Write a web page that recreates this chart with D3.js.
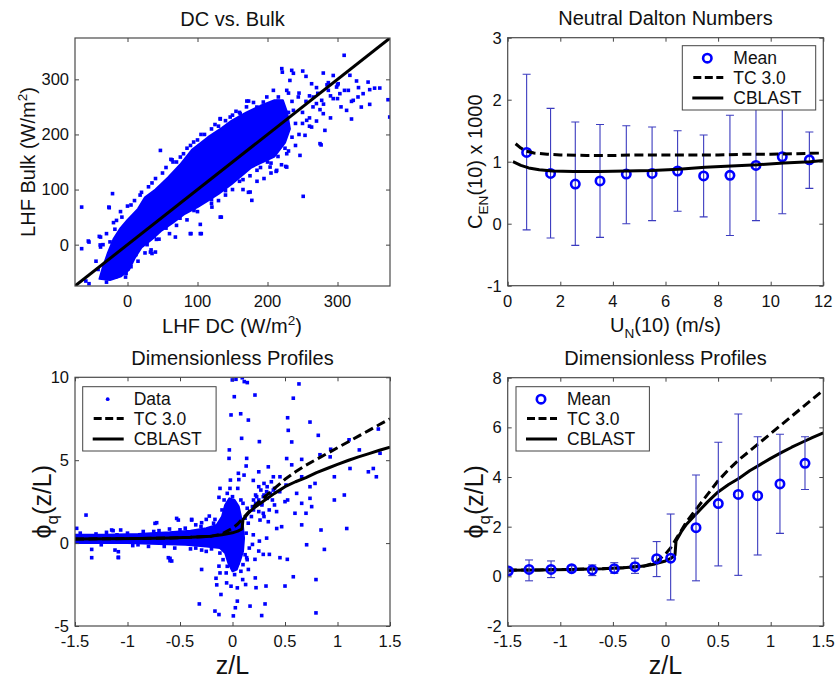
<!DOCTYPE html>
<html><head><meta charset="utf-8">
<script src="https://cdn.jsdelivr.net/npm/d3@7/dist/d3.min.js"></script>
<style>html,body{margin:0;padding:0;background:#fff}svg{display:block}</style>
</head><body>
<svg id="c" width="835" height="684"></svg>
<script>
// ---------------- DATA ----------------
// Panel 1: LHF DC vs LHF Bulk (W/m^2)
const p1Ticks = [0, 100, 200, 300];
const p1Core = [[-40,-62],[-35,-40],[-28,-15],[-20,10],[-10,30],[0,45],[15,65],[25,86],[40,100],[58,122],[75,145],[92,172],[115,195],[135,212],[149,225],[170,240],[190,252],[210,262],[222,262],[228,240],[232,210],[225,185],[210,160],[190,148],[177,140],[160,122],[149,110],[130,92],[115,80],[100,68],[82,56],[65,40],[49,26],[35,10],[20,-5],[10,-25],[2,-46],[-10,-58],[-25,-64]];
const p1Points = [[-65.5,68.2],[-65.5,-7.3],[-56,6.6],[-40.3,15],[-38.5,-4.3],[-26.1,67],[-21.4,92.6],[-55,-70.8],[-59.5,-66],[-15.7,44],[47,171],[62,154.8],[75.5,159],[132.5,228],[134,50],[104,20],[90.7,20],[104,36.8],[172.8,95],[177.6,80.4],[251,87.7],[170.5,260.6],[173,260.6],[194,258.8],[220.4,319.4],[221.2,313],[234.6,316.3],[237,311],[250.3,315],[255,305.4],[279.7,311.4],[293.9,307],[309.5,343.6],[372.2,263],[374.6,231.6],[360.4,284.2],[346,281.3],[343.7,295],[346,254.6],[327.2,297],[317.7,307.3],[322.5,261.9],[320,228],[313,243.7],[298.7,286],[286.9,280],[277.4,261.9],[265.4,267.9],[269.9,256],[279.7,237.7],[282,207.4],[275,183.3],[276.6,181],[270,224.3],[263,213.4],[256,225.6],[253.6,198.4],[246.4,162],[227.5,165],[227.5,140.8],[212.3,133],[203.7,140.8],[213.2,213.4],[237,243.7],[244,268],[227.5,280],[232,298],[208.4,280],[215.5,268],[199,268],[184.8,249.7],[161,237.7],[146.7,231.6],[142,213.4],[293.9,265],[303.4,274],[301,292],[315.5,280],[336.6,274],[353,284],[334,249.7],[271.8,274.6],[263,292],[286.9,294],[329.3,268],[39.9,-13.4],[33.7,-9.5],[-17,-58.8],[-22.6,-56],[-33.8,-49.7],[-26.6,68.2],[63.7,154],[94.5,186.2],[132.5,228.7],[89.7,20],[105.4,20],[132.5,50],[175.2,95.5],[213.2,134.8],[226,142],[68.4,13.8],[41.3,9.6],[32.8,-13.4],[35,-16],[120.6,68.2],[-38.5,13.8],[-55,4.7],[-39,-0.5],[-2.8,-58.8],[-12,-55],[240,220],[250,240],[260,230],[245,200],[265,250],[280,255],[290,270],[300,265],[255,260],[270,285],[285,290],[300,290],[310,280],[225,215],[230,240],[215,225],[220,250],[235,260],[245,275],[260,270],[275,245],[290,230],[305,250],[320,260],[330,285],[250,220],[240,180],[260,215],[205,230],[210,200],[200,215],[195,235],[190,245],[215,260],[230,275],[200,250],[185,225],[180,240],[190,140],[200,150],[215,160],[230,170],[195,120],[175,125],[160,115],[165,100],[185,115],[205,130],[220,145],[150,100],[140,90],[130,80],[120,75],[100,60],[85,45],[70,35],[60,20],[45,10],[25,-15],[15,-30],[5,-40],[-10,60],[0,70],[10,80],[20,95],[30,105],[40,120],[55,140],[70,150],[80,165],[90,180],[100,190],[110,200],[120,210],[130,215],[140,225],[150,235],[160,240],[-20,40],[-30,20],[-35,0],[-45,-30],[-42,-45],[-30,-68],[170,250],[180,258],[155,242],[125,218],[105,200],[85,175],[65,150],[50,130],[35,112],[18,90],[5,72],[-8,50],[-18,28],[-25,5],[235,195],[225,175],[205,148],[185,135],[165,118],[140,98],[120,82],[95,62],[75,48],[55,30],[38,15],[28,0],[12,-18],[-2,-52]];

// Panel 2: Neutral Dalton numbers
const p2XTicks = [0, 2, 4, 6, 8, 10, 12];
const p2YTicks = [-1, 0, 1, 2, 3];
const p2MeanU   = [0.72, 1.63, 2.57, 3.51, 4.51, 5.49, 6.46, 7.45, 8.45, 9.44, 10.44, 11.47];
const p2Mean    = [1.15, 0.81, 0.64, 0.69, 0.80, 0.81, 0.85, 0.77, 0.78, 0.94, 1.08, 1.03];
const p2ErrHigh = [2.41, 1.86, 1.64, 1.60, 1.58, 1.56, 1.50, 1.43, 1.75, 1.95, 2.05, 1.48];
const p2ErrLow  = [-0.10, -0.23, -0.35, -0.22, 0.00, 0.05, 0.20, 0.11, -0.19, 0.05, 0.16, 0.57];
const p2TcU  = [0.3, 0.5, 0.7, 1.0, 1.5, 2, 3, 4, 5, 6, 7, 8, 9, 10, 11, 12];
const p2TcC  = [1.29, 1.22, 1.17, 1.14, 1.12, 1.11, 1.10, 1.10, 1.11, 1.11, 1.11, 1.11, 1.12, 1.12, 1.13, 1.14];
const p2CbU  = [0.2, 0.5, 0.8, 1.2, 1.7, 2.5, 3.5, 4.5, 5.5, 6.5, 7.5, 8.5, 9.5, 10.5, 11.5, 12];
const p2CbC  = [1.00, 0.94, 0.90, 0.87, 0.85, 0.84, 0.84, 0.85, 0.86, 0.88, 0.91, 0.93, 0.95, 0.98, 1.00, 1.02];

// Panels 3 & 4: dimensionless profiles
const zlTicks = [-1.5, -1, -0.5, 0, 0.5, 1, 1.5];
const p3YTicks = [-5, 0, 5, 10];
const p4YTicks = [-2, 0, 2, 4, 6, 8];
const tcZ   = [-1.5, -1.2, -0.9, -0.6, -0.4, -0.2, -0.1, 0, 0.05, 0.1, 0.15, 0.2, 0.3, 0.4, 0.5, 0.6, 0.7, 0.8, 0.9, 1.0, 1.1, 1.2, 1.3, 1.4, 1.5];
const tcPhi = [0.25, 0.26, 0.28, 0.31, 0.35, 0.42, 0.55, 0.9, 1.15, 1.5, 1.85, 2.2, 2.75, 3.3, 3.85, 4.3, 4.7, 5.05, 5.4, 5.75, 6.1, 6.45, 6.8, 7.15, 7.5];
const cbZ   = [-1.5, -1.2, -0.9, -0.6, -0.4, -0.2, -0.1, 0, 0.05, 0.09, 0.1, 0.15, 0.2, 0.3, 0.4, 0.5, 0.6, 0.7, 0.8, 0.9, 1.0, 1.1, 1.2, 1.3, 1.4, 1.5];
const cbPhi = [0.25, 0.26, 0.28, 0.31, 0.35, 0.42, 0.5, 0.62, 0.72, 0.85, 1.42, 1.8, 2.1, 2.55, 3.0, 3.4, 3.7, 3.95, 4.25, 4.5, 4.75, 4.98, 5.2, 5.4, 5.6, 5.78];
const p3Core = [[-1.5,0.5],[-1.2,0.5],[-0.9,0.55],[-0.6,0.65],[-0.4,0.75],[-0.25,0.9],[-0.15,1.1],[-0.1,1.6],[-0.07,2.3],[-0.03,2.7],[0.02,2.6],[0.06,2.2],[0.08,1.6],[0.1,1.0],[0.11,0.3],[0.1,-0.5],[0.07,-1.1],[0.04,-1.6],[0.0,-1.7],[-0.04,-1.2],[-0.07,-0.6],[-0.12,-0.3],[-0.25,-0.2],[-0.45,-0.1],[-0.7,-0.05],[-1.0,0.0],[-1.5,0.0]];
const p3Points = [[-0.002,9.84],[0.033,9.88],[0.112,9.74],[0.141,9.68],[0.093,9.97],[0.214,8.93],[0.017,8.83],[-0.014,7.73],[0.078,7.8],[0.151,7.42],[0.087,6.32],[0.256,6.12],[-0.03,5.62],[-0.033,5.11],[0.135,5.11],[0.13,4.65],[0.056,4.21],[0.11,4.1],[0.06,3.83],[-0.119,3.3],[-0.024,3.3],[-0.129,2.76],[-0.221,1.63],[-0.25,1.43],[-0.389,1.39],[-0.532,1.49],[-0.738,1.19],[-1.395,1.69],[-1.065,0.79],[-1.137,0.75],[-1.484,0.89],[-1.341,-0.38],[-1.341,-0.88],[-1.119,-0.42],[-1.087,-0.88],[-0.611,-0.88],[-0.579,-1.08],[-0.294,-1.59],[-0.316,-3.67],[-0.157,-2.12],[-0.15,-2.52],[-0.119,-1.8],[-0.129,-1.39],[-0.11,-3.1],[-0.167,-4.1],[-0.129,-4.31],[-0.056,-2.4],[-0.014,-2.6],[0.008,-4.39],[0.027,-3.9],[0.046,-3.5],[0.046,-2.7],[0.027,-1.19],[0.097,-2.2],[0.125,-2.5],[0.135,-0.88],[0.151,-1.59],[0.214,-0.98],[0.217,-2.1],[0.224,-2.69],[0.167,-3.8],[0.278,-4.37],[0.31,-3.67],[0.319,-2.59],[0.293,-0.68],[0.25,-0.48],[0.351,-0.68],[0.452,-0.88],[0.522,-0.98],[0.5,-2.59],[0.579,-2.03],[0.795,-4.21],[0.795,-2.2],[0.706,-0.1],[0.875,-0.38],[0.843,0.79],[1.088,0.88],[1.065,2.9],[0.97,2.6],[0.97,4.0],[1.119,4.5],[1.208,5.62],[1.294,4.3],[1.341,4.5],[1.37,4.0],[1.405,5.42],[1.389,6.88],[1.11,6.23],[0.935,5.66],[0.93,5.2],[0.833,5.33],[0.817,6.5],[0.738,7.3],[0.633,9.6],[0.579,8.74],[0.525,7.56],[0.531,6.8],[0.564,6.1],[0.516,5.1],[0.564,4.72],[0.659,5.05],[0.659,4.0],[0.659,2.4],[0.738,2.7],[0.754,2.2],[0.659,1.1],[0.7,1.8],[0.786,3.6],[0.738,3.4],[0.611,3.0],[0.525,2.6],[0.51,3.5],[0.389,3.2],[0.452,4.0],[0.389,4.0],[0.341,4.6],[0.325,3.1],[0.293,2.8],[0.278,2.4],[0.262,1.39],[0.293,1.8],[0.341,1.29],[0.421,0.88],[0.468,0.99],[0.595,1.8],[0.5,2.5],[0.23,2.8],[0.19,2.2],[0.198,3.78],[0.25,4.3],[0.256,0.12],[0.19,-0.08],[0.198,0.5],[0.325,0.3],[-1.151,0.79],[-1.087,-0.52],[-1.087,-0.85],[-0.722,1.23],[-0.595,-0.92],[-0.595,-1.06],[-0.516,1.39],[-0.389,1.43],[-0.294,1.23],[-0.294,-0.42],[-0.167,1.43],[-1.45,0.6],[-1.3,0.55],[-1.2,0.65],[-1.1,0.5],[-0.95,-0.15],[-0.85,0.7],[-0.8,-0.2],[-0.7,0.75],[-0.6,0.85],[-0.55,-0.3],[-0.45,0.9],[-0.4,-0.35],[-0.3,1.0],[-0.25,-0.5],[-0.35,1.1],[-0.1,2.0],[-0.05,3.0],[0.0,2.8],[0.05,3.3],[-0.02,3.8],[0.08,2.6],[0.12,1.5],[0.15,1.2],[0.18,1.6],[0.2,2.0],[0.22,2.4],[0.25,2.6],[0.16,-0.3],[0.14,-1.0],[0.1,-1.3],[-0.06,-1.8],[0.02,-1.9],[0.08,-1.7],[0.22,2.9],[0.27,3.2],[0.3,2.9],[0.33,2.7],[0.36,3.0],[0.38,2.6],[0.4,2.3],[0.25,1.9],[0.3,1.6],[0.35,2.0],[0.42,1.9],[0.28,2.3],[0.2,2.6],[0.33,3.4],[0.4,3.3],[0.45,3.1],[0.37,3.7],[0.3,3.6],[0.25,3.4],[-0.09,1.2],[-0.13,0.9],[-0.18,1.2],[-0.12,-0.6],[-0.09,-1.0],[-0.05,-1.4],[0.05,-1.2],[0.12,-0.7],[0.13,0.6],[0.14,2.1],[0.1,2.4],[-0.08,2.6],[-1.0,0.6],[-0.75,0.7],[-0.5,0.8],[-1.25,-0.1],[-0.9,-0.1],[-0.65,-0.2],[-0.35,-0.3],[-0.2,-0.35]];
const p4MeanZ   = [-1.494, -1.297, -1.088, -0.892, -0.696, -0.487, -0.29, -0.084, 0.049, 0.29, 0.502, 0.692, 0.876, 1.088, 1.326];
const p4Mean    = [0.215, 0.28, 0.28, 0.31, 0.26, 0.31, 0.39, 0.71, 0.73, 1.96, 2.93, 3.30, 3.25, 3.72, 4.55];
const p4ErrHigh = [0.30, 0.66, 0.62, 0.42, 0.46, 0.55, 0.73, 1.40, 2.51, 4.08, 5.40, 6.54, 5.62, 5.72, 5.62];
const p4ErrLow  = [0.13, -0.18, -0.05, 0.19, 0.03, 0.12, 0.12, -0.01, -0.95, -0.18, 0.42, 0.04, 0.86, 1.73, 3.50];

// ---------------- DRAWING ----------------
const FONT = "'Liberation Sans', Arial, Helvetica, sans-serif";
const BLUE = "#0000ff";
const svg = d3.select("#c");

function panel(o) {
  const x = d3.scaleLinear().domain(o.xd).range([o.l, o.r]);
  const y = d3.scaleLinear().domain(o.yd).range([o.b, o.t]);
  const g = svg.append("g");
  const id = "clip" + o.id;
  svg.append("clipPath").attr("id", id).append("rect")
    .attr("x", o.l).attr("y", o.t).attr("width", o.r - o.l).attr("height", o.b - o.t);
  const plot = g.append("g").attr("clip-path", `url(#${id})`);
  const tl = 4;
  const fmt = o.fmt || (d => String(d));
  const ax = [
    d3.axisBottom(x).tickValues(o.xt).tickSize(-tl).tickFormat(""),
    d3.axisTop(x).tickValues(o.xt).tickSize(-tl).tickFormat(""),
    d3.axisLeft(y).tickValues(o.yt).tickSize(-tl).tickFormat(""),
    d3.axisRight(y).tickValues(o.yt).tickSize(-tl).tickFormat("")
  ];
  const pos = [`translate(0,${o.b})`, `translate(0,${o.t})`, `translate(${o.l},0)`, `translate(${o.r},0)`];
  const axG = g.append("g");
  ax.forEach((a, i) => {
    const s = axG.append("g").attr("transform", pos[i]).call(a);
    s.select(".domain").remove();
    s.selectAll("line").attr("stroke", "#444").attr("stroke-width", 1);
  });
  g.append("rect").attr("x", o.l).attr("y", o.t).attr("width", o.r - o.l).attr("height", o.b - o.t)
    .attr("fill", "none").attr("stroke", "#4a4a4a").attr("stroke-width", 1.2);
  g.append("g").selectAll("text").data(o.xt).join("text")
    .attr("x", d => x(d)).attr("y", o.b + 21).attr("text-anchor", "middle")
    .attr("font-family", FONT).attr("font-size", 16.5).attr("fill", "#111").text(fmt);
  g.append("g").selectAll("text").data(o.yt).join("text")
    .attr("x", o.l - 6).attr("y", d => y(d)).attr("dy", "0.36em").attr("text-anchor", "end")
    .attr("font-family", FONT).attr("font-size", 16.5).attr("fill", "#111").text(d => String(d));
  g.append("text").attr("x", (o.l + o.r) / 2).attr("y", o.t - 12.5).attr("text-anchor", "middle")
    .attr("font-family", FONT).attr("font-size", 20).attr("fill", "#111").text(o.title);
  return {x, y, g, plot, axG};
}

function richText(sel, parts, size) {
  parts.forEach(p => {
    const t = sel.append("tspan").text(p.t);
    if (p.sup) t.attr("font-size", size * 0.68).attr("dy", -size * 0.42);
    else if (p.sub) t.attr("font-size", size * 0.68).attr("dy", size * 0.28);
    else if (p.back) t.attr("dy", p.back);
  });
}

function legend(g, lx, ly, first, firstLabel) {
  const w = 133.4, h = 64.3;
  const L = g.append("g").attr("transform", `translate(${lx},${ly})`);
  L.append("rect").attr("width", w).attr("height", h).attr("fill", "#fff").attr("stroke", "#444").attr("stroke-width", 1);
  const rows = [12.5, 31.8, 52.3];
  if (first === "circle") {
    L.append("circle").attr("cx", 25).attr("cy", rows[0]).attr("r", 4.2).attr("fill", "none").attr("stroke", BLUE).attr("stroke-width", 2.6);
  } else {
    L.append("circle").attr("cx", 25).attr("cy", rows[0]).attr("r", 1.9).attr("fill", BLUE);
  }
  L.append("line").attr("x1", 11).attr("x2", 41).attr("y1", rows[1]).attr("y2", rows[1]).attr("stroke", "#000").attr("stroke-width", 3).attr("stroke-dasharray", "8,3.5");
  L.append("line").attr("x1", 10).attr("x2", 41).attr("y1", rows[2]).attr("y2", rows[2]).attr("stroke", "#000").attr("stroke-width", 3);
  [firstLabel, "TC 3.0", "CBLAST"].forEach((t, i) => {
    L.append("text").attr("x", 51).attr("y", rows[i]).attr("dy", "0.36em").attr("font-family", FONT)
      .attr("font-size", 17.5).attr("fill", "#111").text(t);
  });
}

function curve(plot, sx, sy, xs, ys, dashed) {
  const line = d3.line().x((d, i) => sx(xs[i])).y((d, i) => sy(ys[i]));
  plot.append("path").attr("d", line(xs)).attr("fill", "none").attr("stroke", "#000")
    .attr("stroke-width", 3).attr("stroke-linejoin", "round")
    .attr("stroke-dasharray", dashed ? "9,4.5" : null);
}

function errorMeans(plot, sx, sy, xs, ms, hi, lo) {
  const eg = plot.append("g");
  xs.forEach((xv, i) => {
    const cx = sx(xv);
    eg.append("line").attr("x1", cx).attr("x2", cx).attr("y1", sy(hi[i])).attr("y2", sy(lo[i])).attr("stroke", "#3b3bbf").attr("stroke-width", 1.1);
    [hi[i], lo[i]].forEach(v => eg.append("line").attr("x1", cx - 4).attr("x2", cx + 4).attr("y1", sy(v)).attr("y2", sy(v)).attr("stroke", "#3b3bbf").attr("stroke-width", 1.1));
  });
  plot.append("g").selectAll("circle").data(xs).join("circle")
    .attr("cx", d => sx(d)).attr("cy", (d, i) => sy(ms[i])).attr("r", 4.2)
    .attr("fill", "none").attr("stroke", BLUE).attr("stroke-width", 2.6);
}

function scatter(plot, sx, sy, core, pts) {
  const poly = d3.line().x(d => sx(d[0])).y(d => sy(d[1])).curve(d3.curveLinearClosed);
  plot.append("path").attr("d", poly(core)).attr("fill", BLUE).attr("stroke", BLUE).attr("stroke-width", 2).attr("stroke-linejoin", "round");
  plot.append("g").selectAll("rect").data(pts).join("rect")
    .attr("x", d => sx(d[0]) - 1.8).attr("y", d => sy(d[1]) - 1.8).attr("width", 3.6).attr("height", 3.6)
    .attr("fill", BLUE);
}

// Panel 1
{
  const P = panel({id: 1, l: 75, r: 390, t: 38, b: 286, xd: [-75, 375], yd: [-75, 375], xt: p1Ticks, yt: p1Ticks, title: "DC vs. Bulk"});
  scatter(P.plot, P.x, P.y, p1Core, p1Points);
  P.plot.append("line").attr("x1", P.x(-75)).attr("y1", P.y(-75)).attr("x2", P.x(375)).attr("y2", P.y(375))
    .attr("stroke", "#000").attr("stroke-width", 3);
  const xl = svg.append("text").attr("x", 232).attr("y", 333).attr("text-anchor", "middle").attr("font-family", FONT).attr("font-size", 20).attr("fill", "#111");
  richText(xl, [{t: "LHF DC (W/m"}, {t: "2", sup: true}, {t: ")", back: 20 * 0.42}], 20);
  const yl = svg.append("text").attr("transform", "translate(35,162) rotate(-90)").attr("text-anchor", "middle").attr("font-family", FONT).attr("font-size", 20).attr("fill", "#111");
  richText(yl, [{t: "LHF Bulk (W/m"}, {t: "2", sup: true}, {t: ")", back: 20 * 0.42}], 20);
}
// Panel 2
{
  const P = panel({id: 2, l: 507.7, r: 823.3, t: 37.7, b: 285.7, xd: [0, 12], yd: [-1, 3], xt: p2XTicks, yt: p2YTicks, title: "Neutral Dalton Numbers"});
  errorMeans(P.plot, P.x, P.y, p2MeanU, p2Mean, p2ErrHigh, p2ErrLow);
  curve(P.plot, P.x, P.y, p2TcU, p2TcC, true);
  curve(P.plot, P.x, P.y, p2CbU, p2CbC, false);
  legend(P.g, 682.3, 45.7, "circle", "Mean");
  const xl = svg.append("text").attr("x", 665.5).attr("y", 332).attr("text-anchor", "middle").attr("font-family", FONT).attr("font-size", 20).attr("fill", "#111");
  richText(xl, [{t: "U"}, {t: "N", sub: true}, {t: "(10) (m/s)", back: -20 * 0.28}], 20);
  const yl = svg.append("text").attr("transform", "translate(482,161.7) rotate(-90)").attr("text-anchor", "middle").attr("font-family", FONT).attr("font-size", 20).attr("fill", "#111");
  richText(yl, [{t: "C"}, {t: "EN", sub: true}, {t: "(10) x 1000", back: -20 * 0.28}], 20);
}
// Panel 3
{
  const P = panel({id: 3, l: 75, r: 390, t: 377.3, b: 626, xd: [-1.5, 1.5], yd: [-5, 10], xt: zlTicks, yt: p3YTicks, title: "Dimensionless Profiles"});
  scatter(P.plot, P.x, P.y, p3Core, p3Points);
  curve(P.plot, P.x, P.y, tcZ, tcPhi, true);
  curve(P.plot, P.x, P.y, cbZ, cbPhi, false);
  legend(P.g, 82.7, 386.7, "dot", "Data");
  svg.append("text").attr("x", 232.5).attr("y", 674).attr("text-anchor", "middle").attr("font-family", FONT).attr("font-size", 25).attr("fill", "#111").text("z/L");
  const yl = svg.append("text").attr("transform", "translate(51,501.7) rotate(-90)").attr("text-anchor", "middle").attr("font-family", FONT).attr("font-size", 25).attr("fill", "#111");
  richText(yl, [{t: "ϕ"}, {t: "q", sub: true}, {t: "(z/L)", back: -25 * 0.28}], 25);
}
// Panel 4
{
  const P = panel({id: 4, l: 507.7, r: 823.3, t: 377.7, b: 626, xd: [-1.5, 1.5], yd: [-2, 8], xt: zlTicks, yt: p4YTicks, title: "Dimensionless Profiles"});
  curve(P.plot, P.x, P.y, tcZ, tcPhi, true);
  curve(P.plot, P.x, P.y, cbZ, cbPhi, false);
  errorMeans(P.plot, P.x, P.y, p4MeanZ, p4Mean, p4ErrHigh, p4ErrLow);
  legend(P.g, 516, 386.7, "circle", "Mean");
  svg.append("text").attr("x", 665.5).attr("y", 674).attr("text-anchor", "middle").attr("font-family", FONT).attr("font-size", 25).attr("fill", "#111").text("z/L");
  const yl = svg.append("text").attr("transform", "translate(483,501.8) rotate(-90)").attr("text-anchor", "middle").attr("font-family", FONT).attr("font-size", 25).attr("fill", "#111");
  richText(yl, [{t: "ϕ"}, {t: "q", sub: true}, {t: "(z/L)", back: -25 * 0.28}], 25);
}
</script>
</body></html>
